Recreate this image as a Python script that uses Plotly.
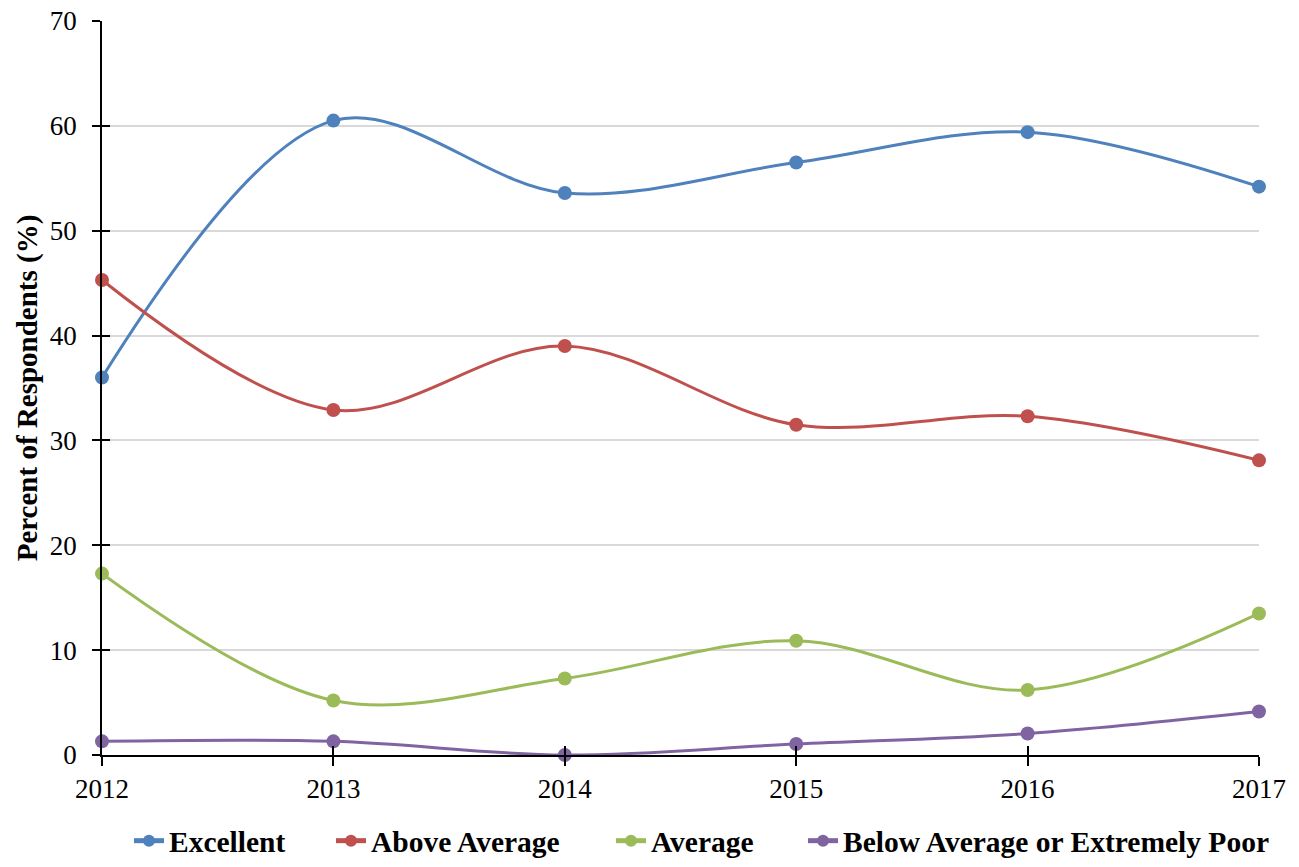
import plotly.graph_objects as go

years = [2012, 2013, 2014, 2015, 2016, 2017]
excellent = [36.0, 60.5, 53.6, 56.5, 59.4, 54.2]
above_average = [45.3, 32.9, 39.0, 31.5, 32.3, 28.1]
average = [17.3, 5.2, 7.3, 10.9, 6.2, 13.5]
below_or_poor = [1.3, 1.3, 0.0, 1.05, 2.05, 4.15]

series = [
    ("Excellent", excellent, "#4F81BD"),
    ("Above Average", above_average, "#C0504D"),
    ("Average", average, "#9BBB59"),
    ("Below Average or Extremely Poor", below_or_poor, "#8064A2"),
]

# left edge (px) of each legend entry along the bottom row
legend_left_px = [129, 331, 611, 803]

FONT = "Liberation Serif"
W, H = 1299, 867

fig = go.Figure()
for i, (name, vals, color) in enumerate(series):
    fig.add_trace(go.Scatter(
        x=years, y=vals, name=f"<b>{name}</b>", mode="lines+markers",
        line=dict(color=color, width=3, shape="spline", smoothing=1.0),
        marker=dict(color=color, size=14),
        cliponaxis=False,
        legend="legend" if i == 0 else f"legend{i + 1}",
    ))

# invisible trace so the inner-tick overlay axes are drawn
fig.add_trace(go.Scatter(x=[2012], y=[0], xaxis="x2", yaxis="y2",
                         mode="markers", marker=dict(opacity=0),
                         showlegend=False, hoverinfo="skip"))

axis_common = dict(linecolor="black", linewidth=1.5, tickcolor="black",
                   tickwidth=1.5, tickfont=dict(family=FONT, size=27, color="black"))

legend_style = dict(orientation="h", xref="container", yref="container",
                    y=-0.008, yanchor="bottom", xanchor="left",
                    font=dict(family=FONT, size=29.5, color="black"),
                    itemsizing="constant", bgcolor="rgba(0,0,0,0)")

fig.update_layout(
    width=W, height=H,
    margin=dict(l=102, r=40, t=21, b=112),
    plot_bgcolor="white", paper_bgcolor="white",
    font=dict(family=FONT, color="black"),
    xaxis=dict(range=[2012, 2017], tickvals=years, ticks="outside", ticklen=9,
               showgrid=False, zeroline=False, showline=True, automargin=False,
               **axis_common),
    yaxis=dict(range=[0, 70], dtick=10, ticks="outside", ticklen=8,
               ticklabelstandoff=10,
               showgrid=True, gridcolor="#d9d9d9", gridwidth=1.5,
               zeroline=False, showline=True, automargin=False,
               title=dict(text="<b>Percent of Respondents (%)</b>",
                          font=dict(family=FONT, size=29, color="black"),
                          standoff=4),
               **axis_common),
    xaxis2=dict(overlaying="x", range=[2012, 2017], tickvals=years, ticks="inside",
                ticklen=9, showticklabels=False, showgrid=False, zeroline=False,
                tickcolor="black", tickwidth=1.5),
    yaxis2=dict(overlaying="y", range=[0, 70], dtick=10, ticks="inside", ticklen=8,
                showticklabels=False, showgrid=False, zeroline=False,
                tickcolor="black", tickwidth=1.5),
    showlegend=True,
)

for i, px in enumerate(legend_left_px):
    key = "legend" if i == 0 else f"legend{i + 1}"
    fig.update_layout({key: dict(x=px / W, **legend_style)})

fig.write_html("out.html")
